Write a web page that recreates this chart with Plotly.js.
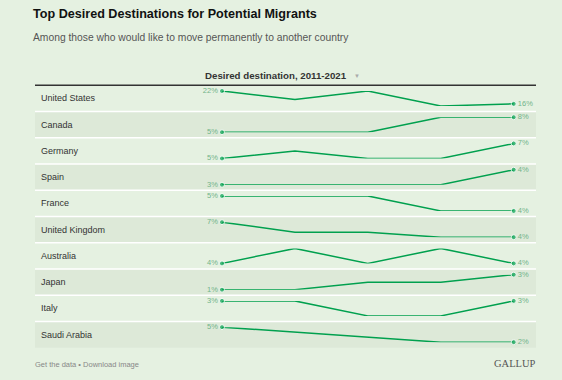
<!DOCTYPE html>
<html>
<head>
<meta charset="utf-8">
<script src="https://cdn.plot.ly/plotly-3.0.1.min.js"></script>
<style>html,body{margin:0;padding:0;background:#e5f1e1;}#chart{width:562px;height:380px;}</style>
</head>
<body>
<div id="chart"></div>
<script>
// ---- data ----
const countries = ['United States','Canada','Germany','Spain','France','United Kingdom','Australia','Japan','Italy','Saudi Arabia'];
const periods = ['2011','2013','2016','2018','2021'];
const usVals = [22, 18, 22, 15, 16];
const canadaVals = [5, 5, 5, 8, 8];
const germanyVals = [5, 6, 5, 5, 7];
const spainVals = [3, 3, 3, 3, 4];
const franceVals = [5, 5, 5, 4, 4];
const ukVals = [7, 5, 5, 4, 4];
const australiaVals = [4, 5, 4, 5, 4];
const japanVals = [1, 1, 2, 2, 3];
const italyVals = [3, 3, 2, 2, 3];
const saudiVals = [5, 4, 3, 2, 2];
const series = [usVals, canadaVals, germanyVals, spainVals, franceVals, ukVals, australiaVals, japanVals, italyVals, saudiVals];

// ---- layout geometry (pixels) ----
const W = 562, H = 380;
const tableLeft = 35, tableRight = 536;
const headerY = 85.3, rowH = 26.24;
const bandTop = 5.7, bandBottom = 20.7;
const sparkLeft = 222, sparkRight = 513.7;
const px = v => v / W;
const py = v => 1 - v / H;

const green = '#00a04e';
const labelGreen = '#72b48a';

const traces = [];
const shapes = [];
const annotations = [];
const layout = {
  width: W, height: H,
  margin: {l: 0, r: 0, t: 0, b: 0},
  paper_bgcolor: '#e5f1e1',
  plot_bgcolor: 'rgba(0,0,0,0)',
  showlegend: false,
  font: {family: 'Liberation Sans, Arial, sans-serif'},
  xaxis: {type: 'category', range: [0, periods.length - 1], domain: [px(sparkLeft), px(sparkRight)], visible: false, fixedrange: true}
};

series.forEach((vals, i) => {
  const rowTop = headerY + rowH * i;
  const axName = i === 0 ? 'yaxis' : 'yaxis' + (i + 1);
  const axRef = i === 0 ? 'y' : 'y' + (i + 1);
  const lo = Math.min(...vals), hi = Math.max(...vals);
  layout[axName] = {
    domain: [py(rowTop + bandBottom), py(rowTop + bandTop)],
    range: [lo, hi], visible: false, fixedrange: true
  };
  const n = vals.length;
  traces.push({
    type: 'scatter', mode: 'lines+markers+text',
    x: periods, y: vals, xaxis: 'x', yaxis: axRef,
    line: {color: green, width: 1.5},
    marker: {color: green, size: vals.map((v, k) => (k === 0 || k === n - 1) ? 5 : 0)},
    text: vals.map((v, k) => (k === 0 || k === n - 1) ? v + '%' : ''),
    textposition: vals.map((v, k) => k === 0 ? 'middle left' : (k === n - 1 ? 'middle right' : 'middle center')),
    textfont: {size: 7.5, color: labelGreen},
    cliponaxis: false, hoverinfo: 'none'
  });
  if (i % 2 === 1) {
    shapes.push({type: 'rect', xref: 'paper', yref: 'paper', layer: 'below',
      x0: px(tableLeft), x1: px(tableRight), y0: py(rowTop + rowH), y1: py(rowTop),
      fillcolor: '#dde9d8', line: {width: 0}});
  }
  if (i > 0) {
    shapes.push({type: 'line', xref: 'paper', yref: 'paper', layer: 'below',
      x0: px(tableLeft), x1: px(tableRight), y0: py(rowTop), y1: py(rowTop),
      line: {color: '#ffffff', width: 1.5}});
  }
  annotations.push({xref: 'paper', yref: 'paper', x: px(38.5), y: py(rowTop + 13.1),
    xanchor: 'left', yanchor: 'middle', showarrow: false, text: countries[i],
    font: {size: 9, color: '#333333'}});
});

// header rule
shapes.push({type: 'line', xref: 'paper', yref: 'paper', x0: px(tableLeft), x1: px(tableRight),
  y0: py(headerY), y1: py(headerY), line: {color: '#333333', width: 1.5}});

annotations.push(
  {xref: 'paper', yref: 'paper', x: px(31), y: py(14), xanchor: 'left', yanchor: 'middle', showarrow: false,
   text: '<b>Top Desired Destinations for Potential Migrants</b>', font: {size: 12.6, color: '#111111'}},
  {xref: 'paper', yref: 'paper', x: px(31), y: py(38), xanchor: 'left', yanchor: 'middle', showarrow: false,
   text: 'Among those who would like to move permanently to another country', font: {size: 10.3, color: '#555555'}},
  {xref: 'paper', yref: 'paper', x: px(203), y: py(75.5), xanchor: 'left', yanchor: 'middle', showarrow: false,
   text: '<b>Desired destination, 2011-2021</b>', font: {size: 9.7, color: '#333333'}},
  {xref: 'paper', yref: 'paper', x: px(352), y: py(75.5), xanchor: 'left', yanchor: 'middle', showarrow: false,
   text: '▼', font: {size: 6, color: '#aaaaaa'}},
  {xref: 'paper', yref: 'paper', x: px(33), y: py(364), xanchor: 'left', yanchor: 'middle', showarrow: false,
   text: 'Get the data • Download image', font: {size: 7.5, color: '#888888'}},
  {xref: 'paper', yref: 'paper', x: px(538), y: py(363), xanchor: 'right', yanchor: 'middle', showarrow: false,
   text: 'GALLUP', font: {size: 10.5, color: '#555555', family: 'Liberation Serif, Times New Roman, serif'}}
);

layout.shapes = shapes;
layout.annotations = annotations;

Plotly.newPlot('chart', traces, layout, {displayModeBar: false, staticPlot: true});
</script>
</body>
</html>
